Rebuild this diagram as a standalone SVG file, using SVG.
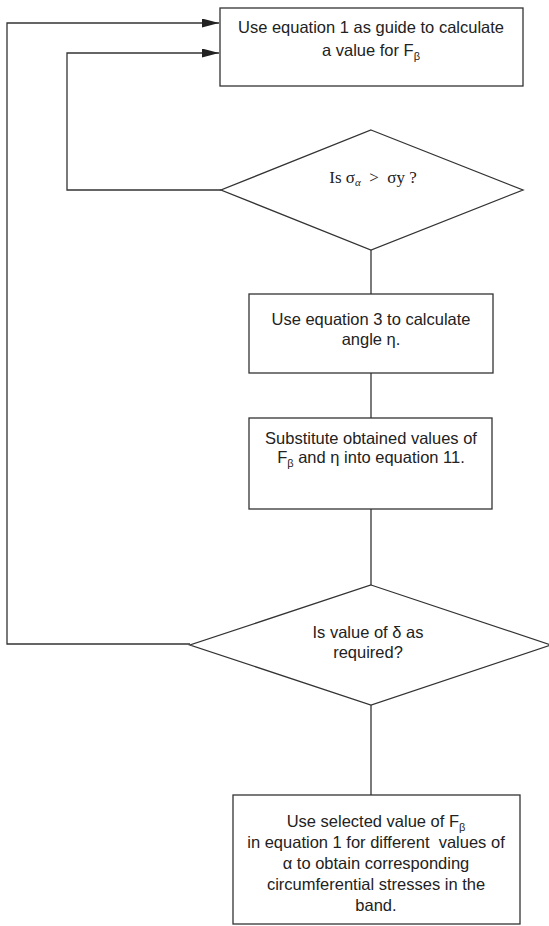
<svg xmlns="http://www.w3.org/2000/svg" width="549" height="926" viewBox="0 0 549 926">
<style>
.shape{fill:#fff;stroke:#333;stroke-width:1.3}
.conn{fill:none;stroke:#333;stroke-width:1.3}
.t{font-family:"Liberation Sans",Arial,sans-serif;font-size:16.5px;fill:#222;text-anchor:middle;white-space:pre}
.s{font-family:"Liberation Serif","Times New Roman",serif;font-size:17px;fill:#222;text-anchor:middle;white-space:pre}
.sub{font-size:11px}
</style>
<defs>
<marker id="ah" markerWidth="17" markerHeight="9" refX="17" refY="4.5" orient="auto" markerUnits="userSpaceOnUse">
<path d="M0,0 L17,4.5 L0,9 Z" fill="#222"/>
</marker>
</defs>
<rect width="549" height="926" fill="#fff"/>
<g id="connectors">
<path class="conn" d="M371,250 V294"/>
<path class="conn" d="M371,373 V418"/>
<path class="conn" d="M371,509 V585"/>
<path class="conn" d="M371,705 V795"/>
<path class="conn" d="M221,190 H67 V53 H219" marker-end="url(#ah)"/>
<path class="conn" d="M190,644 H7 V23 H219" marker-end="url(#ah)"/>
</g>
<g id="box1">
<rect class="shape" x="220" y="8" width="303" height="78"/>
<text class="t" x="371" y="33">Use equation 1 as guide to calculate</text>
<text class="t" x="371" y="56">a value for F<tspan class="sub" dy="4">β</tspan></text>
</g>
<g id="decision1">
<polygon class="shape" points="371,130 523,190 371,250 221,190"/>
<text class="s" x="373" y="183" xml:space="preserve">Is σ<tspan class="sub" dy="3" font-style="italic">α</tspan><tspan dy="-3">  &gt;  σy ?</tspan></text>
</g>
<g id="box2">
<rect class="shape" x="249" y="294" width="244" height="79"/>
<text class="t" x="371" y="325">Use equation 3 to calculate</text>
<text class="t" x="371" y="345">angle η.</text>
</g>
<g id="box3">
<rect class="shape" x="249" y="418" width="243" height="91"/>
<text class="t" x="371" y="444">Substitute obtained values of</text>
<text class="t" x="371" y="463">F<tspan class="sub" dy="4">β</tspan><tspan dy="-4"> and η into equation 11.</tspan></text>
</g>
<g id="decision2">
<polygon class="shape" points="371,585 551,645 371,705 190,645"/>
<text class="t" x="368" y="638">Is value of δ as</text>
<text class="t" x="368" y="658">required?</text>
</g>
<g id="box4">
<rect class="shape" x="233" y="795" width="287" height="129"/>
<text class="t" x="376" y="827">Use selected value of F<tspan class="sub" dy="4">β</tspan></text>
<text class="t" x="376" y="848" xml:space="preserve">in equation 1 for different  values of</text>
<text class="t" x="376" y="869">α to obtain corresponding</text>
<text class="t" x="376" y="890">circumferential stresses in the</text>
<text class="t" x="376" y="911">band.</text>
</g>
</svg>
